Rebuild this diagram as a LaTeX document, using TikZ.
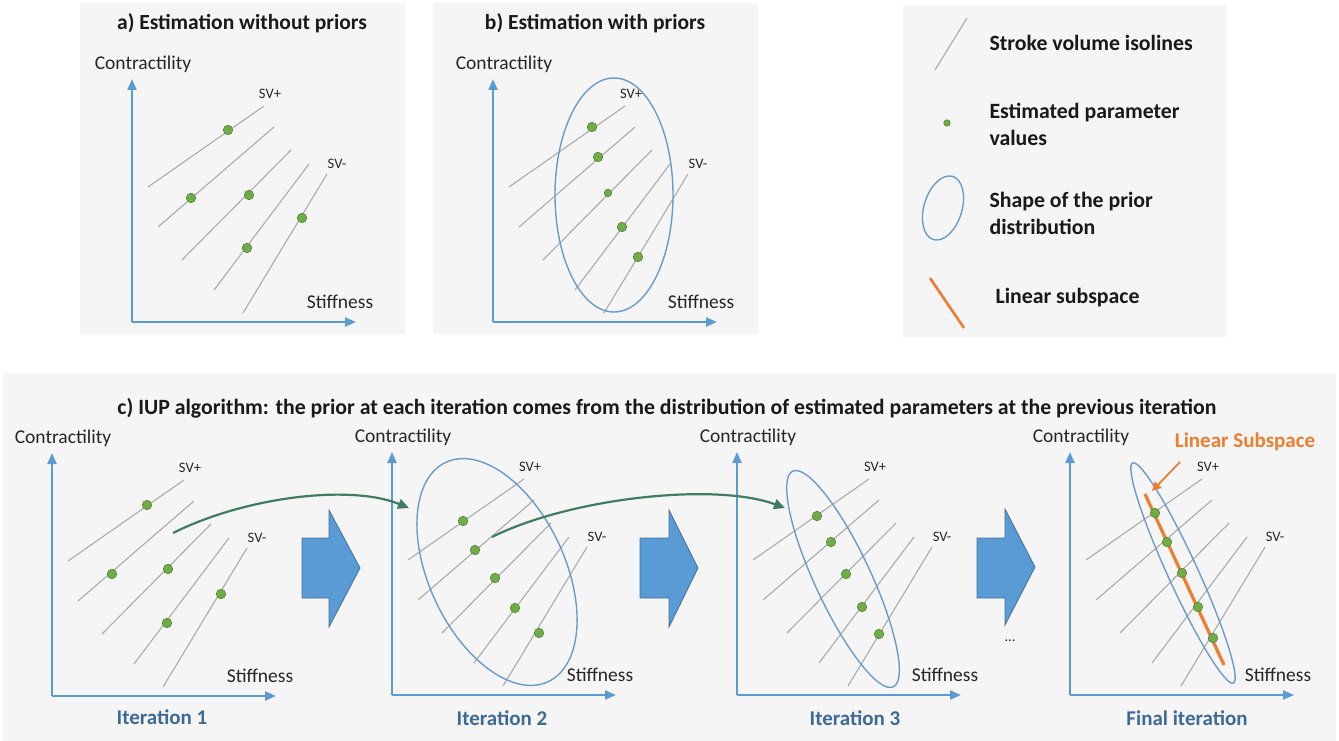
\documentclass[tikz,border=0pt]{standalone}
\usepackage{fontspec}
\setmainfont{Carlito}
\usetikzlibrary{arrows.meta}
\definecolor{axisblue}{HTML}{5B9BD5}
\definecolor{isogray}{HTML}{ABABAB}
\definecolor{dotgreen}{HTML}{70AD47}
\definecolor{dotedge}{HTML}{548235}
\definecolor{ellblue}{HTML}{6C9BC8}
\definecolor{panelbg}{HTML}{F5F5F5}
\definecolor{itblue}{RGB}{62,106,150}
\definecolor{subor}{HTML}{ED7D31}
\definecolor{curvegreen}{HTML}{3F7D60}
\definecolor{blockedge}{HTML}{41719C}
\tikzset{
  axis/.style={draw=axisblue, line width=2.2pt, -{Triangle[length=11pt,width=9pt]}},
  iso/.style={draw=isogray, line width=1.1pt},
  axlab/.style={font=\fontsize{19.5}{21}\selectfont, text=black!85},
  svlab/.style={font=\fontsize{14.5}{16}\selectfont, text=black!85},
  ttl/.style={font=\bfseries\fontsize{21.5}{23}\selectfont, text=black!90},
  ttlc/.style={font=\bfseries\fontsize{21.8}{23}\selectfont, text=black!90},
  legtxt/.style={font=\bfseries\fontsize{21.8}{27}\selectfont, text=black!90, anchor=west, align=left},
  itlab/.style={font=\bfseries\fontsize{21}{23}\selectfont, text=itblue},
  pdot/.style={circle, fill=dotgreen, draw=dotedge, line width=0.6pt, inner sep=0pt, minimum size=9.5pt},
  ell/.style={draw=ellblue, line width=1.4pt},
  bigarrow/.style={fill=axisblue, draw=blockedge, line width=0.8pt},
  curvearrow/.style={draw=curvegreen, line width=2.2pt, -{Triangle[length=11pt,width=10pt]}},
  panel/.style={fill=panelbg, draw=none}
}
\newcommand{\isoplot}[3]{%
  \begin{scope}[shift={(#2,#3)}]
    \coordinate (#1o) at (0,0);
    \coordinate (#1yt) at (0,-243);
    \coordinate (#1xt) at (224,0);
    \draw[axis] (#1o) -- (#1yt);
    \draw[axis] (#1o) -- (#1xt);
    \foreach \i/\a/\b/\c/\d in {1/16/-135/132/-216, 2/26/-95/142/-195, 3/50/-62/159/-172, 4/82/-32/177/-158, 5/111/-9/195/-148} {
      \coordinate (#1a\i) at (\a,\b);
      \coordinate (#1b\i) at (\c,\d);
      \draw[iso] (#1a\i) -- (#1b\i);
    }
    \node[axlab] (#1cl) at (11,-258) {Contractility};
    \node[axlab] (#1st) at (208,-20) {Stiffness};
    \node[svlab] (#1svp) at (138,-228) {SV+};
    \node[svlab] (#1svm) at (205,-158) {SV-};
  \end{scope}}
\begin{document}
\begin{tikzpicture}[x=1pt,y=-1pt]
\useasboundingbox (0,0) rectangle (1339,741);
\fill[white] (0,0) rectangle (1339,741);
% panels
\fill[panel] (80,3) rectangle (405,334);
\fill[panel] (433,3) rectangle (758,334);
\fill[panel] (903,5) rectangle (1227,337);
\fill[panel] (3,373) rectangle (1336,741);
% titles
\node[ttl] (ta) at (242,23) {a) Estimation without priors};
\node[ttl] (tb) at (595,23) {b) Estimation with priors};
\node[ttlc] (tc) at (667,408) {c) IUP algorithm: the prior at each iteration comes from the distribution of estimated parameters at the previous iteration};
% plot a
\isoplot{A}{132}{322}
\node[pdot] (A1) at (228,130) {};
\node[pdot] (A2) at (191,198) {};
\node[pdot] (A3) at (249,195) {};
\node[pdot] (A4) at (302,218) {};
\node[pdot] (A5) at (247,248) {};
% plot b
\isoplot{B}{493}{322}
\draw[ell] (614,195) ellipse [x radius=59, y radius=117];
\node[pdot] (B1) at (592,127) {};
\node[pdot] (B2) at (598,157) {};
\node[pdot, minimum size=7.5pt] (B3) at (608,193) {};
\node[pdot] (B4) at (622,227) {};
\node[pdot] (B5) at (638,257) {};
% legend
\coordinate (L1a) at (935,70);
\coordinate (L1b) at (967,18);
\draw[iso] (L1a) -- (L1b);
\node[legtxt] (Lt1) at (986,43) {Stroke volume isolines};
\node[pdot, minimum size=6.5pt] (Ld) at (947,123) {};
\node[legtxt] (Lt2) at (986,124) {Estimated parameter\\values};
\draw[ell, rotate around={-17:(943,208)}] (943,208) ellipse [x radius=19, y radius=33];
\node[legtxt] (Lt3) at (986,213) {Shape of the prior\\distribution};
\coordinate (L4a) at (930,278);
\coordinate (L4b) at (964,328);
\draw[draw=subor, line width=2.6pt] (L4a) -- (L4b);
\node[legtxt] (Lt4) at (992,298) {Linear subspace};
% plot c1
\isoplot{C}{52}{696}
\node[pdot] (C1) at (147,505) {};
\node[pdot] (C2) at (112,574) {};
\node[pdot] (C3) at (168,569) {};
\node[pdot] (C4) at (221,594) {};
\node[pdot] (C5) at (167,623) {};
\node[itlab] (I1) at (162,717) {Iteration 1};
% plot c2
\isoplot{D}{392}{695}
\draw[ell, rotate around={25:(497,572)}] (497,572) ellipse [x radius=68, y radius=121];
\node[pdot] (D1) at (463,521) {};
\node[pdot] (D2) at (475,550) {};
\node[pdot] (D3) at (495,578) {};
\node[pdot] (D4) at (515,608) {};
\node[pdot] (D5) at (539,633) {};
\node[itlab] (I2) at (502,718) {Iteration 2};
% plot c3
\isoplot{E}{737}{695}
\draw[ell, rotate around={25:(843,579)}] (843,579) ellipse [x radius=28, y radius=119];
\node[pdot] (E1) at (817,516) {};
\node[pdot] (E2) at (831,542) {};
\node[pdot] (E3) at (846,574) {};
\node[pdot] (E4) at (862,607) {};
\node[pdot] (E5) at (879,634) {};
\node[itlab] (I3) at (855,718) {Iteration 3};
% plot c4
\isoplot{F}{1070}{695}
\draw[ell, rotate around={24.6:(1183,573)}] (1183,573) ellipse [x radius=15, y radius=121];
\coordinate (S1) at (1145,494);
\coordinate (S2) at (1224,665);
\draw[draw=subor, line width=3.2pt] (S1) -- (S2);
\node[pdot] (F1) at (1155,513) {};
\node[pdot] (F2) at (1167,542) {};
\node[pdot] (F3) at (1182,573) {};
\node[pdot] (F4) at (1198,607) {};
\node[pdot] (F5) at (1213,638) {};
\node[itlab] (I4) at (1187,718) {Final iteration};
\node[font=\bfseries\fontsize{21}{23}\selectfont, text=subor] (LS) at (1245,442) {Linear Subspace};
\coordinate (LSa) at (1180,462);
\coordinate (LSb) at (1152,491);
\draw[draw=subor, line width=1.8pt, -{Triangle[length=9pt,width=9pt]}] (LSa) -- (LSb);
% curved arrows
\coordinate (g1s) at (173,533);
\coordinate (g1e) at (409,508);
\draw[curvearrow] (g1s) .. controls (245,497) and (350,484) .. (g1e);
\coordinate (g2s) at (492,537);
\coordinate (g2e) at (785,508);
\draw[curvearrow] (g2s) .. controls (570,498) and (715,482) .. (g2e);
% block arrows
\draw[bigarrow] (302,538) -- (329,538) -- (329,510) -- (360,568) -- (329,627) -- (329,598) -- (302,598) -- cycle;
\draw[bigarrow] (640,538) -- (669,538) -- (669,510) -- (698,568) -- (669,627) -- (669,598) -- (640,598) -- cycle;
\draw[bigarrow] (977,538) -- (1005,538) -- (1005,509) -- (1035,567) -- (1005,625) -- (1005,598) -- (977,598) -- cycle;
\node[svlab] (dots) at (1010,641) {...};
\end{tikzpicture}
\end{document}
